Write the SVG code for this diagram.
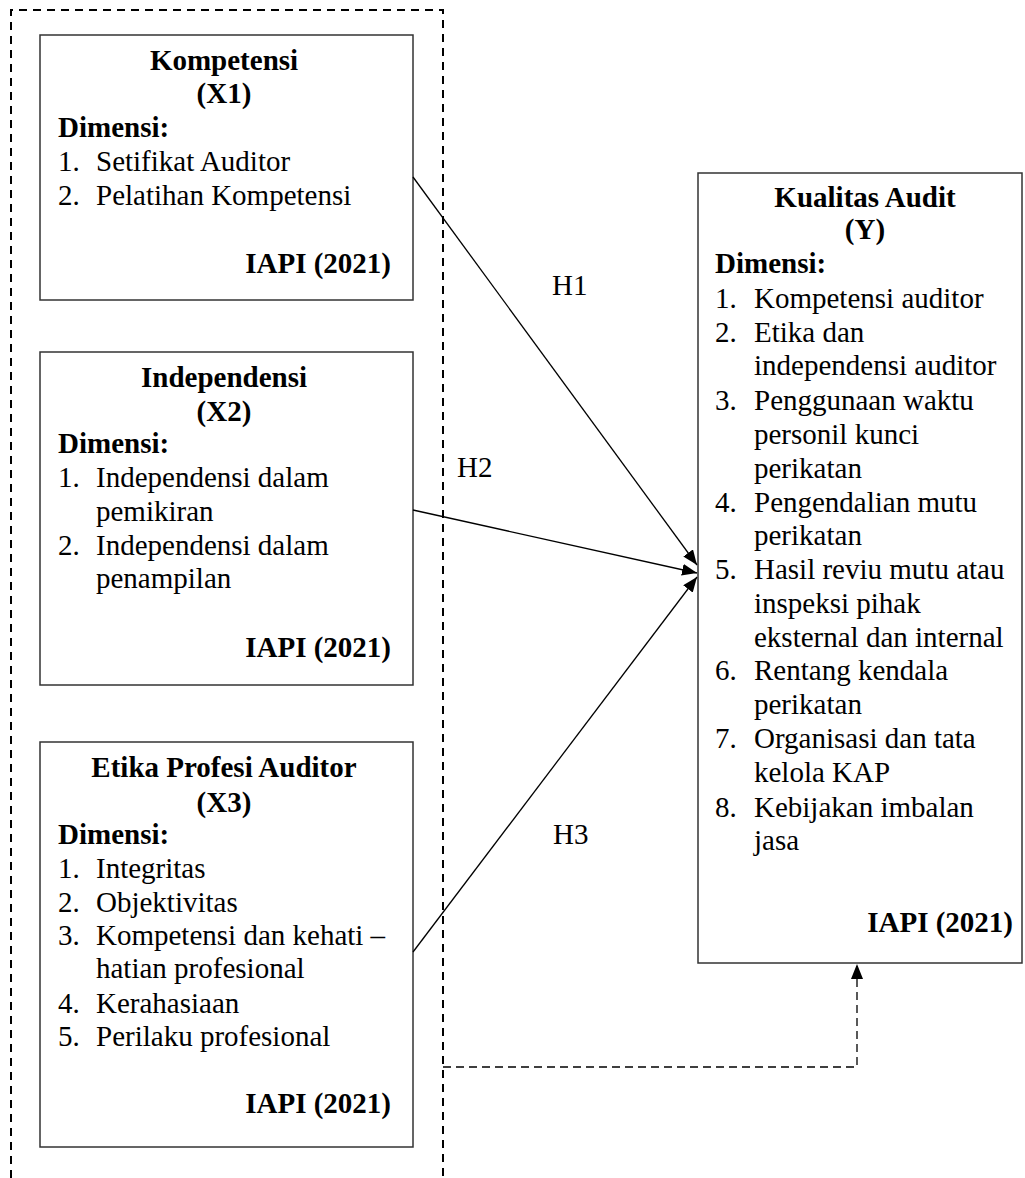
<svg xmlns="http://www.w3.org/2000/svg" width="1025" height="1178" viewBox="0 0 1025 1178">
<style>
text{font-family:"Liberation Serif","Times New Roman",serif;font-size:29px;fill:#000}
.b{font-weight:bold}
.c{text-anchor:middle}
.r{text-anchor:end}
.box{fill:#fff;stroke:#333;stroke-width:1.5}
.outer{fill:none;stroke:#000;stroke-width:2;stroke-dasharray:8 6}
.conn{fill:none;stroke:#000;stroke-width:1.3}
.dconn{fill:none;stroke:#000;stroke-width:1.3;stroke-dasharray:8 5}
</style>
<defs>
<marker id="ah" markerUnits="userSpaceOnUse" markerWidth="16" markerHeight="12" refX="15" refY="6" orient="auto">
<path d="M0,0 L15,6 L0,12 z" fill="#000"/>
</marker>
</defs>
<rect width="1025" height="1178" fill="#fff"/>
<path class="outer" d="M11,1178 L11,10 L443,10 L443,1178"/>

<g id="x1">
<rect class="box" x="40" y="35" width="373" height="265"/>
<text class="b c" x="224" y="70">Kompetensi</text>
<text class="b c" x="224" y="103">(X1)</text>
<text class="b" x="58" y="137">Dimensi:</text>
<text x="58" y="171">1.</text><text x="96" y="171">Setifikat Auditor</text>
<text x="58" y="205">2.</text><text x="96" y="205">Pelatihan Kompetensi</text>
<text class="b r" x="391" y="273">IAPI (2021)</text>
</g>

<g id="x2">
<rect class="box" x="40" y="352" width="373" height="333"/>
<text class="b c" x="224" y="387">Independensi</text>
<text class="b c" x="224" y="421">(X2)</text>
<text class="b" x="58" y="453">Dimensi:</text>
<text x="58" y="487">1.</text><text x="96" y="487">Independensi dalam</text>
<text x="96" y="521">pemikiran</text>
<text x="58" y="555">2.</text><text x="96" y="555">Independensi dalam</text>
<text x="96" y="588">penampilan</text>
<text class="b r" x="391" y="657">IAPI (2021)</text>
</g>

<g id="x3">
<rect class="box" x="40" y="742" width="373" height="405"/>
<text class="b c" x="224" y="777">Etika Profesi Auditor</text>
<text class="b c" x="224" y="812">(X3)</text>
<text class="b" x="58" y="844">Dimensi:</text>
<text x="58" y="878">1.</text><text x="96" y="878">Integritas</text>
<text x="58" y="912">2.</text><text x="96" y="912">Objektivitas</text>
<text x="58" y="945">3.</text><text x="96" y="945">Kompetensi dan kehati –</text>
<text x="96" y="978">hatian profesional</text>
<text x="58" y="1013">4.</text><text x="96" y="1013">Kerahasiaan</text>
<text x="58" y="1046">5.</text><text x="96" y="1046">Perilaku profesional</text>
<text class="b r" x="391" y="1113">IAPI (2021)</text>
</g>

<g id="y">
<rect class="box" x="698" y="173" width="324" height="790"/>
<text class="b c" x="865" y="207">Kualitas Audit</text>
<text class="b c" x="865" y="239">(Y)</text>
<text class="b" x="715" y="273">Dimensi:</text>
<text x="715" y="308">1.</text><text x="754" y="308">Kompetensi auditor</text>
<text x="715" y="342">2.</text><text x="754" y="342">Etika dan</text>
<text x="754" y="375">independensi auditor</text>
<text x="715" y="410">3.</text><text x="754" y="410">Penggunaan waktu</text>
<text x="754" y="444">personil kunci</text>
<text x="754" y="478">perikatan</text>
<text x="715" y="512">4.</text><text x="754" y="512">Pengendalian mutu</text>
<text x="754" y="545">perikatan</text>
<text x="715" y="579">5.</text><text x="754" y="579">Hasil reviu mutu atau</text>
<text x="754" y="613">inspeksi pihak</text>
<text x="754" y="647">eksternal dan internal</text>
<text x="715" y="680">6.</text><text x="754" y="680">Rentang kendala</text>
<text x="754" y="714">perikatan</text>
<text x="715" y="748">7.</text><text x="754" y="748">Organisasi dan tata</text>
<text x="754" y="782">kelola KAP</text>
<text x="715" y="817">8.</text><text x="754" y="817">Kebijakan imbalan</text>
<text x="754" y="850">jasa</text>
<text class="b r" x="1013" y="932">IAPI (2021)</text>
</g>

<g id="connectors">
<line class="conn" x1="413" y1="177" x2="697" y2="565" marker-end="url(#ah)"/>
<line class="conn" x1="413" y1="510" x2="697" y2="573" marker-end="url(#ah)"/>
<line class="conn" x1="413" y1="952" x2="697" y2="577" marker-end="url(#ah)"/>
<path class="dconn" d="M443,1067 L857,1067 L857,964" marker-end="url(#ah)"/>
<text x="552" y="295">H1</text>
<text x="457" y="477">H2</text>
<text x="553" y="844">H3</text>
</g>
</svg>
